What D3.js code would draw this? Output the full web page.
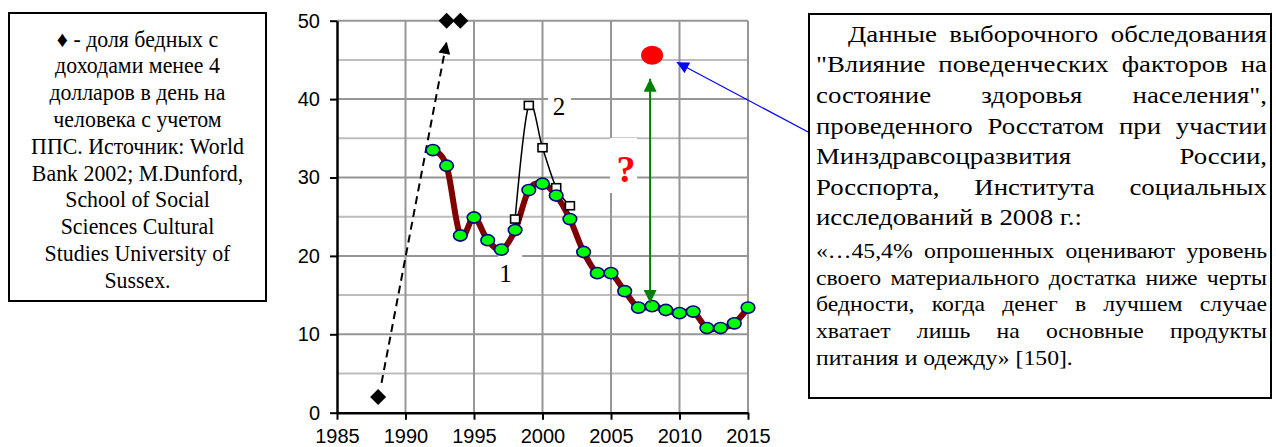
<!DOCTYPE html>
<html><head><meta charset="utf-8">
<script src="https://cdn.jsdelivr.net/npm/d3@7"></script>
<style>body{margin:0;background:#fff} svg{display:block}</style>
</head><body>
<script>
// ---- data ----
const years1 = [1992,1993,1994,1995,1996,1997,1998,1999,2000,2001,2002,2003,2004,2005,2006,2007,2008,2009,2010,2011,2012,2013,2014,2015];
const values1 = [33.5,31.5,22.6,24.9,22.0,20.8,23.3,28.4,29.2,27.7,24.7,20.5,17.8,17.8,15.5,13.4,13.6,13.1,12.7,12.9,10.8,10.8,11.4,13.4];
const years2 = [1998,1999,2000,2001,2002];
const values2 = [24.7,39.2,33.8,28.7,26.4];
const diamondYears = [1988,1993,1994];
const diamondValues = [2.0,50,50];
const surveyYears = [2008];
const surveyValues = [45.4];
const xTickValues = [1985,1990,1995,2000,2005,2010,2015];
const yTickValues = [0,10,20,30,40,50];
const yMinorValues = [5,15,25,35,45];
const seriesLabels = ["1","2"];

const leftBoxLines = ["\u2666 - доля бедных с","доходами менее 4","долларов в день на","человека с учетом","ППС. Источник: World","Bank 2002; M.Dunford,","School of Social","Sciences Cultural","Studies University of","Sussex."];
const rightPara1 = ["Данные выборочного обследования","\"Влияние поведенческих факторов на","состояние здоровья населения\",","проведенного Росстатом при участии","Минздравсоцразвития России,","Росспорта, Института социальных","исследований в 2008 г.:"];
const rightPara2 = ["«…45,4% опрошенных оценивают уровень","своего материального достатка ниже черты","бедности, когда денег в лучшем случае","хватает лишь на основные продукты","питания и одежду» [150]."];

// ---- layout ----
const W = 1276, H = 447;
const svg = d3.select("body").append("svg").attr("width", W).attr("height", H);
const x = d3.scaleLinear().domain([1985, 2015]).range([337, 748]);
const y = d3.scaleLinear().domain([0, 50]).range([412.7, 20.7]);

const defs = svg.append("defs");
function marker(id, color, w, h) {
  defs.append("marker").attr("id", id).attr("viewBox", "0 0 10 10")
    .attr("refX", 10).attr("refY", 5).attr("markerUnits", "userSpaceOnUse")
    .attr("markerWidth", w).attr("markerHeight", h).attr("orient", "auto-start-reverse")
    .append("path").attr("d", "M0,0 L10,5 L0,10 Z").attr("fill", color);
}
marker("arrBlack", "#000", 14, 12);
marker("arrGreen", "#008000", 14, 13);
marker("arrBlue", "#0000ff", 14, 12);

// grid
const grid = svg.append("g");
grid.selectAll("line.minor").data(yMinorValues).join("line")
  .attr("x1", x(1985)).attr("x2", x(2015)).attr("y1", d => y(d)).attr("y2", d => y(d))
  .attr("stroke", "#bdbdbd").attr("stroke-width", 2);
grid.selectAll("line.major").data(yTickValues.filter(d => d > 0)).join("line")
  .attr("x1", x(1985)).attr("x2", x(2015)).attr("y1", d => y(d)).attr("y2", d => y(d))
  .attr("stroke", "#969696").attr("stroke-width", 2);
grid.selectAll("line.v").data(xTickValues.filter(d => d > 1985)).join("line")
  .attr("x1", d => x(d)).attr("x2", d => x(d)).attr("y1", y(0)).attr("y2", y(50))
  .attr("stroke", "#969696").attr("stroke-width", 2);

// white label backgrounds (they mask gridlines)
const bg = svg.append("g").attr("fill", "#fff");
bg.append("rect").attr("x", x(1997.2) - 6).attr("y", y(20.8) - 6).attr("width", 24).attr("height", 48);
bg.append("rect").attr("x", 548).attr("y", y(41.5)).attr("width", 23).attr("height", 30);
bg.append("rect").attr("x", 610).attr("y", 138).attr("width", 27).attr("height", 55);

// axes
const axisFont = "'Liberation Sans', Arial, sans-serif";
const yAxis = svg.append("g").attr("transform", `translate(${x(1985)},0)`)
  .call(d3.axisLeft(y).tickValues(yTickValues).tickSize(7).tickPadding(10).tickSizeOuter(0));
const xAxis = svg.append("g").attr("transform", `translate(0,${y(0)})`)
  .call(d3.axisBottom(x).tickValues(xTickValues).tickFormat(d3.format("d")).tickSize(7).tickPadding(9).tickSizeOuter(0));
[yAxis, xAxis].forEach(a => {
  a.select(".domain").attr("stroke", "#000").attr("stroke-width", 2.5);
  a.selectAll(".tick line").attr("stroke", "#000").attr("stroke-width", 2);
  a.selectAll(".tick text").attr("fill", "#000").style("font-family", axisFont).style("font-size", "20px");
});

// dashed arrow from 1988 diamond
svg.append("line")
  .attr("x1", x(1988.25)).attr("y1", y(3.8)).attr("x2", x(1993.0)).attr("y2", y(47.3))
  .attr("stroke", "#000").attr("stroke-width", 2).attr("stroke-dasharray", "8,5")
  .attr("marker-end", "url(#arrBlack)");

// series 2 (thin black smooth line with white squares)
const pts2 = years2.map((d, i) => [d, values2[i]]);
svg.append("path").datum(pts2)
  .attr("d", d3.line().x(d => x(d[0])).y(d => y(d[1])).curve(d3.curveCatmullRom.alpha(0)))
  .attr("fill", "none").attr("stroke", "#000").attr("stroke-width", 1.5);

// series 1 (thick dark red smooth line)
const pts1 = years1.map((d, i) => [d, values1[i]]);
svg.append("path").datum(pts1)
  .attr("d", d3.line().x(d => x(d[0])).y(d => y(d[1])).curve(d3.curveCatmullRom.alpha(0)))
  .attr("fill", "none").attr("stroke", "#800000").attr("stroke-width", 6).attr("stroke-linejoin", "round");

svg.append("g").selectAll("rect").data(pts2).join("rect")
  .attr("x", d => x(d[0]) - 4.5).attr("y", d => y(d[1]) - 4)
  .attr("width", 9).attr("height", 8).attr("fill", "#fff").attr("stroke", "#000").attr("stroke-width", 1.6);

svg.append("g").selectAll("ellipse").data(pts1).join("ellipse")
  .attr("cx", d => x(d[0])).attr("cy", d => y(d[1])).attr("rx", 6.8).attr("ry", 5.6)
  .attr("fill", "#00ff00").attr("stroke", "#000080").attr("stroke-width", 1.6);

// diamonds
const dia = diamondYears.map((d, i) => [d, diamondValues[i]]);
svg.append("g").selectAll("path").data(dia).join("path")
  .attr("transform", d => `translate(${x(d[0])},${y(d[1])})`)
  .attr("d", "M0,-8 L8,0 L0,8 L-8,0 Z").attr("fill", "#000");

// survey point, green double arrow, blue pointer
svg.append("line")
  .attr("x1", x(surveyYears[0]) - 2).attr("x2", x(surveyYears[0]) - 2)
  .attr("y1", y(14.0)).attr("y2", y(42.6))
  .attr("stroke", "#008000").attr("stroke-width", 2)
  .attr("marker-start", "url(#arrGreen)").attr("marker-end", "url(#arrGreen)");
svg.append("g").selectAll("ellipse").data(surveyYears.map((d, i) => [d, surveyValues[i]])).join("ellipse")
  .attr("cx", d => x(d[0])).attr("cy", d => y(d[1]) - 1.5).attr("rx", 11).attr("ry", 9.5).attr("fill", "#ff0000");
svg.append("line")
  .attr("x1", 810).attr("y1", 133).attr("x2", x(2009.8)).attr("y2", y(44.7))
  .attr("stroke", "#0000ff").attr("stroke-width", 1.2).attr("marker-end", "url(#arrBlue)");

// labels
const serif = "'Liberation Serif', 'Times New Roman', serif";
svg.append("text").attr("x", x(1997.3)).attr("y", y(17.8) + 9).attr("text-anchor", "middle")
  .style("font-family", serif).style("font-size", "25px").text(seriesLabels[0]);
svg.append("text").attr("x", x(2001.2)).attr("y", y(39.1) + 9).attr("text-anchor", "middle")
  .style("font-family", serif).style("font-size", "25px").text(seriesLabels[1]);
svg.append("text").attr("x", x(2006.1)).attr("y", y(31.2) + 14).attr("text-anchor", "middle")
  .style("font-family", serif).style("font-size", "38px").style("font-weight", "bold").attr("fill", "#ff0000").text("?");

// ---- text boxes ----
svg.append("rect").attr("x", 9).attr("y", 13).attr("width", 257).attr("height", 288)
  .attr("fill", "#fff").attr("stroke", "#000").attr("stroke-width", 2);
const lb = svg.append("g").style("font-family", serif).style("font-size", "22.5px");
{
  const probe = lb.append("text").text(leftBoxLines[4]);
  const sxL = 213 / probe.node().getComputedTextLength();
  probe.remove();
  leftBoxLines.forEach((t, i) => {
    lb.append("text").attr("transform", `translate(137.5,${46.5 + i * 26.8}) scale(${sxL},1)`)
      .attr("text-anchor", "middle").text(t);
  });
}

svg.append("rect").attr("x", 809).attr("y", 14).attr("width", 462).attr("height", 384)
  .attr("fill", "#fff").attr("stroke", "#000").attr("stroke-width", 2);

function para(lines, x0, x1, y0, dy, size, indent, lastTarget) {
  const g = svg.append("g").style("font-family", serif).style("font-size", size + "px");
  const probe = g.append("text").text(lines[lines.length - 1]);
  const sx = lastTarget / probe.node().getComputedTextLength();
  probe.remove();
  lines.forEach((t, li) => {
    const yy = y0 + li * dy;
    const left = x0 + (li === 0 ? indent : 0);
    if (li === lines.length - 1) {
      g.append("text").attr("transform", `translate(${left},${yy}) scale(${sx},1)`).text(t);
      return;
    }
    const words = t.split(/\s+/).filter(Boolean);
    const nodes = words.map(w => g.append("text").text(w));
    const widths = nodes.map(n => n.node().getComputedTextLength());
    const sum = d3.sum(widths);
    const n = words.length;
    let s = sx;
    if (n > 1 && (x1 - left - sum * s) / (n - 1) < 4) s = (x1 - left - 4 * (n - 1)) / sum;
    const gap = n > 1 ? (x1 - left - sum * s) / (n - 1) : 0;
    let cx = left;
    nodes.forEach((nd, i) => {
      nd.attr("transform", `translate(${cx},${yy}) scale(${s},1)`);
      cx += widths[i] * s + gap;
    });
  });
}
para(rightPara1, 816, 1267, 41.7, 30.6, 24, 32, 266);
para(rightPara2, 816, 1267, 258, 26.7, 20.5, 0, 257);
</script>
</body></html>
